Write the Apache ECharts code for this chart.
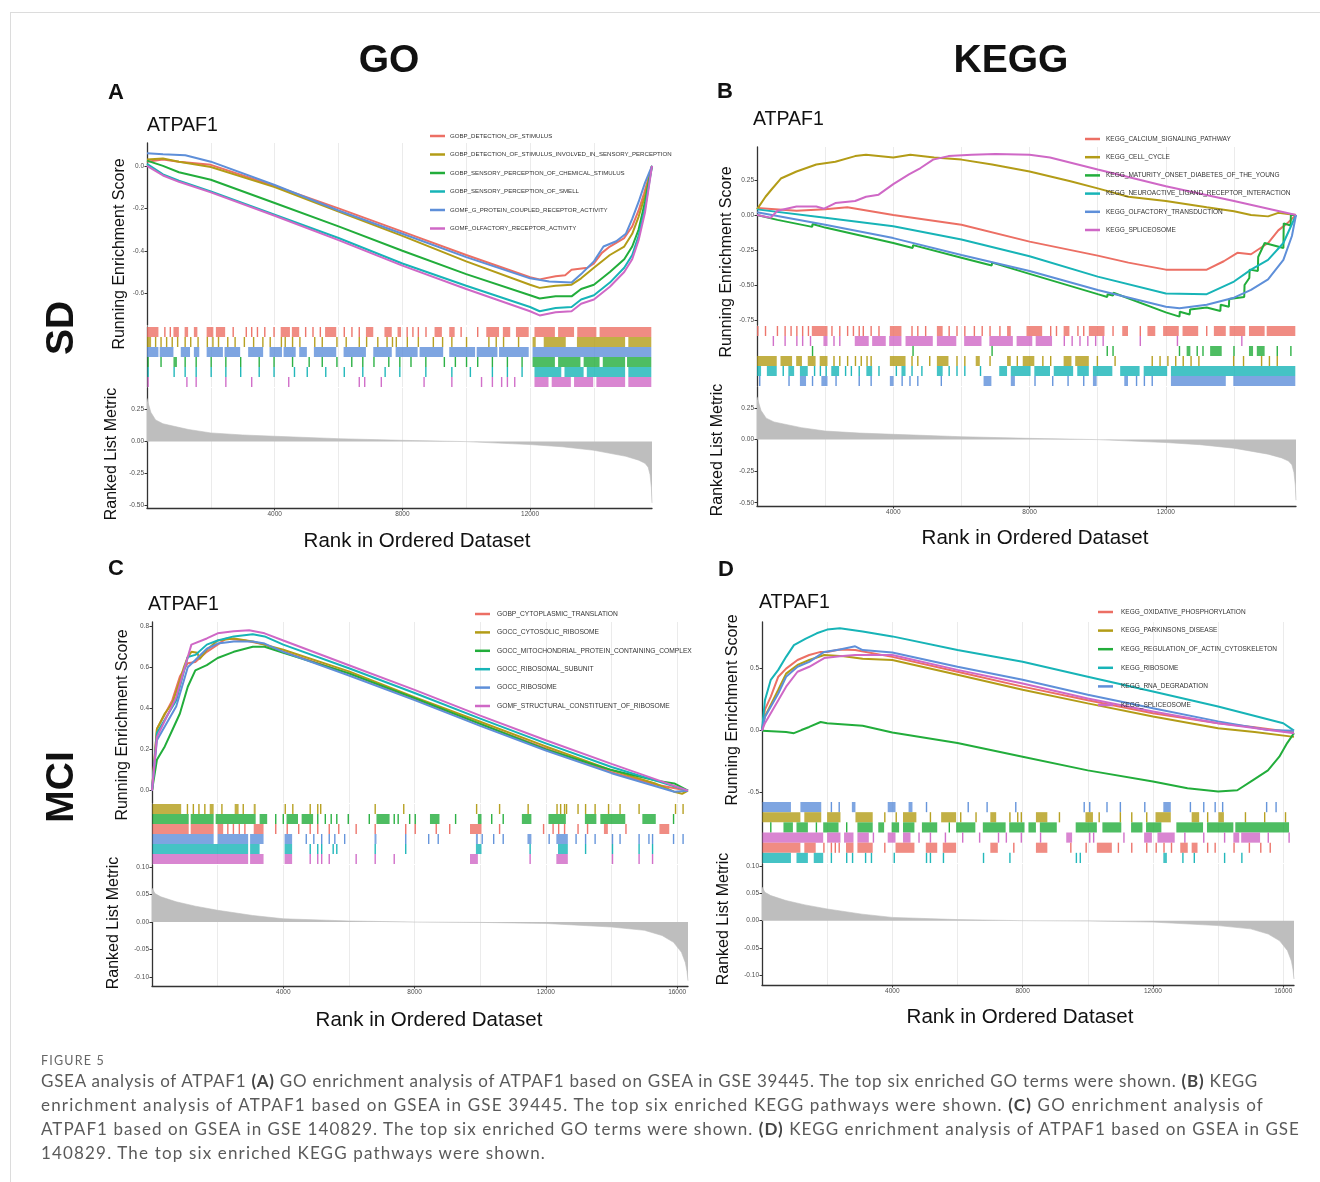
<!DOCTYPE html>
<html>
<head>
<meta charset="utf-8">
<script src="https://cdn.jsdelivr.net/npm/echarts@6/dist/echarts.min.js"></script>
<style>
  body { margin: 0; background: #fff; }
  #wrap { position: relative; width: 1320px; height: 1182px; overflow: hidden; }
  #frame { position: absolute; left: 10px; top: 12px; width: 1320px; height: 1180px;
           border-top: 1px solid #dcdcdc; border-left: 1px solid #dcdcdc; }
  #main { position: absolute; left: 0; top: 0; width: 1320px; height: 1182px; }
  .cap { position: absolute; left: 41px; font-family: Lato, 'Liberation Sans', sans-serif;
         color: #5a5a5a; white-space: nowrap; line-height: 22px; }
  .cap b { color: #444; }
</style>
</head>
<body>
<div id="wrap">
  <div id="frame"></div>
  <div id="main"></div>
  <div class="cap fit" data-w="64" style="top:1050px;font-size:12.5px;color:#666;">FIGURE 5</div>
  <div class="cap fit" data-w="1217" style="top:1070px;font-size:17px;">GSEA analysis of ATPAF1 <b>(A)</b> GO enrichment analysis of ATPAF1 based on GSEA in GSE 39445. The top six enriched GO terms were shown. <b>(B)</b> KEGG</div>
  <div class="cap fit" data-w="1223" style="top:1094px;font-size:17px;">enrichment analysis of ATPAF1 based on GSEA in GSE 39445. The top six enriched KEGG pathways were shown. <b>(C)</b> GO enrichment analysis of</div>
  <div class="cap fit" data-w="1259" style="top:1118px;font-size:17px;">ATPAF1 based on GSEA in GSE 140829. The top six enriched GO terms were shown. <b>(D)</b> KEGG enrichment analysis of ATPAF1 based on GSEA in GSE</div>
  <div class="cap fit" data-w="505" style="top:1142px;font-size:17px;">140829. The top six enriched KEGG pathways were shown.</div>
</div>
<script>
// ---- data ----
const N_SD = 15820;   // genes in GSE 39445 ranking
const N_MCI = 16330;  // genes in GSE 140829 ranking
const xTicksSD = [4000, 8000, 12000];
const xTicksMCI = [4000, 8000, 12000, 16000];
const esTicksA = [-0.6, -0.4, -0.2, 0];
const esTicksB = [-0.75, -0.5, -0.25, 0, 0.25];
const esTicksC = [0, 0.2, 0.4, 0.6, 0.8];
const esTicksD = [-0.5, 0, 0.5];
const metTicksSD = [-0.5, -0.25, 0, 0.25];
const metTicksMCI = [-0.1, -0.05, 0, 0.05, 0.1];

const setsA = ['GOBP_DETECTION_OF_STIMULUS', 'GOBP_DETECTION_OF_STIMULUS_INVOLVED_IN_SENSORY_PERCEPTION',
  'GOBP_SENSORY_PERCEPTION_OF_CHEMICAL_STIMULUS', 'GOBP_SENSORY_PERCEPTION_OF_SMELL',
  'GOMF_G_PROTEIN_COUPLED_RECEPTOR_ACTIVITY', 'GOMF_OLFACTORY_RECEPTOR_ACTIVITY'];
const setsB = ['KEGG_CALCIUM_SIGNALING_PATHWAY', 'KEGG_CELL_CYCLE', 'KEGG_MATURITY_ONSET_DIABETES_OF_THE_YOUNG',
  'KEGG_NEUROACTIVE_LIGAND_RECEPTOR_INTERACTION', 'KEGG_OLFACTORY_TRANSDUCTION', 'KEGG_SPLICEOSOME'];
const setsC = ['GOBP_CYTOPLASMIC_TRANSLATION', 'GOCC_CYTOSOLIC_RIBOSOME', 'GOCC_MITOCHONDRIAL_PROTEIN_CONTAINING_COMPLEX',
  'GOCC_RIBOSOMAL_SUBUNIT', 'GOCC_RIBOSOME', 'GOMF_STRUCTURAL_CONSTITUENT_OF_RIBOSOME'];
const setsD = ['KEGG_OXIDATIVE_PHOSPHORYLATION', 'KEGG_PARKINSONS_DISEASE', 'KEGG_REGULATION_OF_ACTIN_CYTOSKELETON',
  'KEGG_RIBOSOME', 'KEGG_RNA_DEGRADATION', 'KEGG_SPLICEOSOME'];

// running enrichment score, [rank, ES]
const esA_red = [[0,0.02],[500,0.03],[1000,0.02],[2000,0.005],[4000,-0.095],[6000,-0.2],[8000,-0.31],[10000,-0.42],[12000,-0.525],[12300,-0.535],[12800,-0.52],[13100,-0.515],[13300,-0.49],[13800,-0.48],[14000,-0.46],[14250,-0.41],[14500,-0.38],[14950,-0.34],[15200,-0.285],[15400,-0.21],[15570,-0.13],[15820,0]];
const esA_gold = [[0,0.03],[500,0.035],[1000,0.02],[2000,-0.005],[4000,-0.1],[6000,-0.215],[8000,-0.33],[10000,-0.45],[12000,-0.56],[12300,-0.575],[12800,-0.565],[13300,-0.56],[13600,-0.53],[14000,-0.48],[14500,-0.42],[14950,-0.38],[15200,-0.32],[15400,-0.24],[15600,-0.14],[15820,0]];
const esA_green = [[0,0.025],[500,0.0],[1000,-0.03],[2000,-0.065],[4000,-0.175],[6000,-0.285],[8000,-0.4],[10000,-0.51],[12000,-0.61],[12300,-0.625],[12800,-0.615],[13300,-0.615],[13600,-0.58],[14000,-0.56],[14500,-0.5],[14950,-0.44],[15200,-0.38],[15400,-0.3],[15600,-0.17],[15820,0]];
const esA_cyan = [[0,0.01],[500,-0.04],[1000,-0.07],[2000,-0.12],[4000,-0.23],[6000,-0.34],[8000,-0.46],[10000,-0.565],[12000,-0.665],[12300,-0.685],[12800,-0.67],[13300,-0.665],[13600,-0.63],[14000,-0.61],[14500,-0.55],[14950,-0.48],[15200,-0.42],[15400,-0.33],[15600,-0.2],[15820,0]];
const esA_blue = [[0,0.06],[500,0.055],[1200,0.05],[2000,0.02],[4000,-0.09],[6000,-0.21],[8000,-0.32],[10000,-0.43],[12000,-0.53],[12600,-0.545],[13300,-0.55],[13600,-0.51],[14000,-0.45],[14300,-0.38],[14700,-0.355],[15000,-0.32],[15200,-0.25],[15400,-0.17],[15600,-0.08],[15820,0]];
const esA_pink = [[0,0.0],[500,-0.045],[1000,-0.075],[2000,-0.125],[4000,-0.235],[6000,-0.35],[8000,-0.47],[10000,-0.58],[12000,-0.685],[12300,-0.705],[12800,-0.69],[13300,-0.685],[13600,-0.65],[14000,-0.63],[14500,-0.57],[14950,-0.5],[15200,-0.44],[15400,-0.35],[15600,-0.22],[15820,0]];

const esB_red = [[0,0.05],[1160,0.03],[2000,0.04],[2650,0.055],[4000,0.0],[6000,-0.07],[8000,-0.19],[10000,-0.29],[10900,-0.34],[12000,-0.39],[13200,-0.39],[13700,-0.33],[14100,-0.27],[14500,-0.28],[15000,-0.2],[15300,-0.11],[15560,-0.06],[15820,0]];
const esB_gold = [[0,0.04],[250,0.13],[420,0.18],[700,0.26],[1160,0.31],[1740,0.36],[2300,0.38],[2880,0.42],[3200,0.43],[4000,0.41],[4500,0.43],[5200,0.41],[6000,0.395],[6900,0.36],[8000,0.31],[9200,0.24],[10000,0.19],[10900,0.13],[12000,0.1],[13200,0.055],[14000,0.026],[14500,0.0],[15000,-0.01],[15300,0.015],[15820,0]];
const esB_green = [[0,0],[600,-0.035],[1620,-0.085],[1630,-0.065],[2000,-0.09],[4000,-0.2],[4570,-0.235],[4580,-0.215],[6000,-0.305],[6890,-0.36],[6900,-0.34],[8000,-0.42],[10000,-0.565],[10280,-0.585],[10290,-0.565],[10450,-0.575],[10460,-0.555],[12000,-0.695],[12400,-0.725],[12410,-0.69],[12700,-0.71],[12710,-0.675],[13200,-0.66],[13600,-0.685],[13610,-0.64],[13850,-0.655],[13860,-0.6],[14300,-0.585],[14310,-0.5],[14450,-0.45],[14460,-0.39],[14700,-0.4],[14710,-0.3],[14900,-0.2],[15450,-0.235],[15460,-0.06],[15660,-0.075],[15670,0],[15820,0]];
const esB_cyan = [[0,0.04],[2000,-0.02],[4000,-0.08],[6000,-0.175],[8000,-0.295],[10000,-0.44],[12000,-0.56],[13200,-0.565],[14000,-0.475],[14500,-0.39],[15000,-0.32],[15450,-0.2],[15820,0]];
const esB_blue = [[0,0.02],[2000,-0.07],[4000,-0.165],[6000,-0.285],[8000,-0.4],[10000,-0.535],[12000,-0.655],[12400,-0.665],[13200,-0.64],[14000,-0.59],[14500,-0.535],[15000,-0.46],[15450,-0.32],[15700,-0.15],[15820,0]];
const esB_pink = [[0,0.0],[400,-0.02],[600,0.03],[1160,0.06],[1740,0.06],[1970,0.045],[2300,0.085],[2880,0.1],[3200,0.13],[3570,0.145],[4000,0.22],[4460,0.29],[4800,0.335],[5170,0.395],[5620,0.42],[6300,0.43],[7000,0.435],[8000,0.43],[8600,0.41],[10000,0.325],[12000,0.205],[14000,0.1],[15820,0]];

const esC_red = [[0,0],[150,0.3],[390,0.37],[620,0.44],[850,0.555],[1090,0.62],[1320,0.625],[1670,0.675],[2000,0.71],[2260,0.74],[2840,0.73],[3430,0.71],[4000,0.675],[6000,0.57],[8000,0.445],[10000,0.325],[12000,0.205],[14000,0.09],[15330,0.03],[16330,0]];
const esC_gold = [[0,0],[150,0.3],[390,0.375],[620,0.425],[850,0.535],[970,0.6],[1090,0.65],[1200,0.675],[1380,0.67],[1450,0.64],[1670,0.685],[2000,0.73],[2490,0.74],[3070,0.725],[3430,0.71],[4000,0.685],[6000,0.58],[8000,0.455],[10000,0.335],[12000,0.215],[14000,0.1],[15330,0.035],[15910,-0.005],[16150,-0.015],[16330,0]];
const esC_green = [[0,0],[150,0.15],[390,0.215],[620,0.295],[850,0.375],[1090,0.505],[1320,0.585],[1670,0.61],[2000,0.645],[2490,0.675],[3070,0.7],[3430,0.7],[4000,0.67],[6000,0.57],[8000,0.45],[10000,0.325],[12000,0.2],[14000,0.1],[15330,0.05],[15910,0.035],[16330,0]];
const esC_cyan = [[0,0],[150,0.28],[740,0.44],[1090,0.65],[1320,0.66],[1670,0.71],[2000,0.73],[2490,0.75],[3070,0.76],[3430,0.75],[4000,0.71],[6000,0.595],[8000,0.475],[10000,0.35],[12000,0.23],[14000,0.115],[16330,0]];
const esC_blue = [[0,0],[150,0.245],[740,0.41],[1090,0.6],[1320,0.635],[1670,0.69],[2000,0.715],[2490,0.725],[3070,0.725],[3430,0.715],[4000,0.675],[6000,0.56],[8000,0.44],[10000,0.315],[12000,0.195],[14000,0.085],[15910,-0.005],[16330,0]];
const esC_pink = [[0,0],[150,0.26],[740,0.455],[1090,0.65],[1200,0.71],[1670,0.74],[2000,0.765],[2490,0.775],[2960,0.78],[3430,0.765],[4000,0.73],[6000,0.61],[8000,0.49],[10000,0.365],[12000,0.245],[14000,0.13],[16330,0]];

const esD_red = [[0,0],[90,0.17],[270,0.275],[500,0.435],[740,0.5],[1090,0.57],[1450,0.61],[1800,0.635],[2000,0.635],[2390,0.655],[2860,0.65],[4000,0.595],[6000,0.475],[8000,0.355],[10000,0.245],[12000,0.14],[14000,0.06],[15060,0.03],[16330,-0.015]];
const esD_gold = [[0,0],[90,0.115],[500,0.33],[740,0.46],[1090,0.53],[1450,0.57],[1910,0.61],[2510,0.6],[3090,0.58],[4000,0.57],[6000,0.45],[8000,0.33],[10000,0.22],[12000,0.115],[14000,0.02],[15120,-0.01],[16330,-0.05]];
const esD_green = [[0,0],[740,-0.01],[980,-0.02],[1210,0.005],[1450,0.03],[1800,0.07],[2000,0.06],[3090,0.04],[4000,-0.015],[6000,-0.1],[8000,-0.21],[10000,-0.32],[12000,-0.41],[13060,-0.465],[14000,-0.49],[14590,-0.48],[15060,-0.4],[15530,-0.32],[15880,-0.21],[16120,-0.1],[16330,-0.02]];
const esD_cyan = [[0,0],[90,0.245],[270,0.41],[500,0.49],[740,0.595],[980,0.69],[1330,0.74],[1680,0.785],[2000,0.815],[2390,0.825],[3090,0.8],[4000,0.76],[6000,0.65],[8000,0.555],[10000,0.435],[12000,0.315],[14000,0.195],[16000,0.06],[16330,0]];
const esD_blue = [[0,0],[90,0.11],[500,0.3],[740,0.435],[1090,0.515],[1450,0.555],[1910,0.635],[2390,0.655],[2860,0.68],[3090,0.65],[4000,0.63],[6000,0.515],[8000,0.41],[10000,0.29],[12000,0.18],[14000,0.075],[15530,0.005],[16330,0]];
const esD_pink = [[0,0],[90,0.06],[500,0.245],[740,0.355],[1090,0.475],[1450,0.515],[1910,0.585],[2390,0.6],[2860,0.61],[4000,0.61],[6000,0.49],[8000,0.38],[10000,0.26],[12000,0.155],[14000,0.06],[16330,-0.02]];

// gene-set hits: single ranks or [from, to] runs of dense hits
const hitsA_red = [[0,380],560,730,[850,1020],[1200,1310],[1490,1600],[1890,2100],[2180,2470],2700,3110,3280,3460,3690,3980,[4210,4500],[4560,4790],4970,5200,5430,[5600,5950],6180,6420,6650,[6880,7110],[7460,7690],[7870,7980],8150,8330,8500,8740,[9030,9260],[9490,9660],9840,10360,[10650,11050],[11170,11400],[11580,11980],[12160,12800],[12900,13400],[13500,14100],[14200,15820]];
const hitsA_gold = [[0,150],270,440,615,790,960,1195,1370,1600,1890,2065,2240,2530,2760,3050,3340,3630,3860,4210,4330,4560,4790,5255,5490,5950,6240,6650,6880,7230,7520,7690,7810,8155,8500,8970,9260,9550,10010,10710,10940,11170,11640,[12100,12200],[12450,13140],[13490,15000],[15100,15820]];
const hitsA_green = [35,440,[850,960],1195,1540,2010,2470,2935,3515,3980,4560,5080,5490,5950,6415,6760,7110,7575,7920,8270,8735,9315,9660,10010,10360,10820,11290,11750,[12100,12800],[12900,13600],[13700,14200],[14300,15000],[15060,15820]];
const hitsA_cyan = [35,850,1195,1540,2010,2470,2935,3515,3980,4620,5020,5600,6180,6760,7460,7920,8735,9550,10130,10820,11290,11750,[12160,13000],[13100,13700],[13800,15000],[15100,15820]];
const hitsA_blue = [[0,380],[420,850],[1080,1370],[1490,1660],[1890,2400],[2450,2940],[3190,3660],[3860,4250],[4300,4680],[4790,5030],[5250,5950],[6180,6880],[7110,7690],[7810,8500],[8560,9300],[9490,10300],[10350,11000],[11050,11980],[12100,15820]];
const hitsA_pink = [35,1250,1540,2470,3280,4440,6650,6820,7340,8680,9550,10480,10820,11110,11290,11520,[12160,12600],[12700,13300],[13400,14000],[14100,15000],[15100,15820]];

const hitsB_red = [23,250,600,825,1000,1170,1340,1510,[1630,2090],2200,2430,2660,2830,3000,3120,3350,3580,[3920,4260],4550,4720,4950,[5300,5470],5640,5870,6100,6380,6610,6840,7130,[7360,7470],[7930,8390],8620,8790,[9020,9190],9420,9590,[9760,10220],10450,[10740,10910],11250,[11480,11710],[11940,12400],[12510,12970],13200,[13430,13780],[13890,14350],[14460,14920],[14980,15820]];
const hitsB_gold = [[23,600],[710,1050],[1170,1340],[1510,1740],[1860,2090],2260,2430,2660,2890,3060,3230,3350,[3920,4380],4550,4720,5070,[5300,5640],5870,6100,[6440,6560],6840,[7360,7470],7640,[7820,8160],8390,8620,[9020,9250],[9360,9760],9990,10510,11600,11830,12060,12290,12510,12740,12970,13990,14280,14810,15040,15270];
const hitsB_green = [1630,4580,6900,10280,10450,12400,[12630,12740],12920,13090,[13320,13660],14000,[14460,14580],[14690,14920],15270,15670];
const hitsB_cyan = [[23,140],[310,600],770,[940,1110],[1280,1510],1690,1860,2030,[2200,2430],2600,2770,3000,[3230,3400],3580,4090,[4260,4380],4550,4840,[5300,5470],5640,5870,6100,6560,[7130,7360],[7470,8050],[8160,8620],[8730,9300],[9420,9760],[9880,10450],[10680,11250],[11370,12060],[12170,15820]];
const hitsB_blue = [80,940,[1280,1460],1630,[1910,2090],2320,3000,3350,[3920,4030],4260,4490,4720,5410,[6670,6900],[7470,7590],8160,8680,9130,9590,[9880,9990],[10800,10910],11140,11370,11600,[12170,13780],[14000,15820]];
const hitsB_pink = [480,825,1170,1340,1570,[1970,2090],2260,2430,[2890,3300],[3400,3800],[3900,4260],[4380,5180],[5300,5870],[6100,6610],[6840,7530],[7640,8100],[8200,8680],9020,9250,9480,9710,9940,10160,11250,12340,14230];

const hitsC_red = [[35,1140],[1200,1900],[2020,2190],2310,2480,2660,2830,[3120,3420],3770,4120,4470,4820,5050,5400,5690,6220,6800,7730,8020,8660,9070,[9710,10060],10590,11930,12220,12390,12570,12980,13270,[13790,13910],14440,[15480,15780]];
const hitsC_gold = [[35,910],1080,1260,1430,1610,[1780,1900],2130,[2540,2660],2780,[3120,3180],4060,4290,4820,5050,5140,6800,7670,9890,10590,11460,12340,12450,12570,12630,12980,13210,13500,13910,14260,14840,15950,16180];
const hitsC_green = [[35,1140],[1200,1900],[1960,3180],[3300,3530],3770,4000,[4120,4470],[4580,4930],5050,5280,5460,5630,5980,6620,[6860,7260],7380,7500,7850,8020,[8490,8780],9250,[9950,10060],10350,10700,[11290,11580],[12100,12630],[13210,13560],[13680,14440],[14960,15370],15890];
const hitsC_cyan = [[35,2950],[3010,3300],[4060,4290],4820,5050,5170,5520,5630,6800,7730,[9890,10060],11520,[12390,12690],13210,14030,14840,15250];
const hitsC_blue = [[35,1900],[2020,2950],[3010,3420],[4060,4290],4700,4930,5170,5400,5570,5870,[6800,6860],7730,8430,8720,[9890,9950],10060,10410,10700,[11460,11580],12100,[12340,12690],12920,13210,13500,14030,14260,14840,15140,15250,15890,16180];
const hitsC_pink = [[35,2950],[3010,3420],[4060,4290],4820,5050,5170,5400,6220,6800,7380,[9710,9950],11520,[12340,12690],14030,14840,15250];

const hitsD_red = [[35,1200],[1320,1670],1900,2130,2250,2370,[2600,2830],[2950,3420],3770,[4120,4700],[5050,5400],[5570,5980],[7030,7260],7730,[8430,8780],9480,9950,[10300,10760],10940,11350,11810,12100,12340,12570,[12860,13090],[13210,13390],13680,13910,14490,14960,15310,15600];
const hitsD_gold = [[35,1200],[1320,1840],[2020,2430],[2890,3420],3770,4120,[4350,4760],5170,[5520,5980],6100,6570,[7030,7210],7610,7850,7960,[8430,8780],9130,[9950,10180],10350,11000,11350,11810,[12100,12570],[13210,13440],13680,[14030,14200],14840,15430,16070];
const hitsD_green = [270,[680,970],[1080,1430],1670,[1900,2370],2600,[2950,3420],[3590,3770],[4000,4230],[4350,4700],[4930,5400],5750,[5980,6570],[6800,7500],[7610,8080],[8200,8430],[8550,9070],[9650,10300],[10470,11050],[11350,11700],[11810,12280],[12740,13560],[13680,14490],[14550,16200]];
const hitsD_cyan = [[35,910],[1080,1430],[1610,1900],2130,2600,2780,3180,3360,4060,5050,5170,5570,6800,7610,9650,9770,[12340,12450],12920,13270,14200,14730];
const hitsD_blue = [[35,910],[1200,1840],2130,2370,[2780,2890],[3880,4120],[4520,4640],5050,6330,6910,7790,9890,10060,10590,11000,11750,[12340,12570],13150,13560,13910,14140,15490,15780];
const hitsD_pink = [[35,1900],[2020,2430],[2540,2830],[2950,3300],3420,[3880,4120],[4350,4580],4820,5170,5630,6160,6680,7260,7500,7960,8550,[9360,9540],10060,10180,11110,[11750,11990],[12160,12690],12980,13560,14200,[14490,14670],[14730,15310],15540,16180];

// ranked list metric, [rank, value]
const metricSD = [[0,0.34],[40,0.3],[120,0.23],[270,0.17],[500,0.14],[850,0.12],[1300,0.095],[2000,0.068],[3000,0.052],[4000,0.042],[6000,0.023],[8000,0.01],[10000,0],[12000,-0.023],[13000,-0.04],[14000,-0.068],[15000,-0.115],[15400,-0.145],[15600,-0.17],[15700,-0.2],[15760,-0.26],[15800,-0.36],[15820,-0.48]];
const metricMCI = [[0,0.062],[90,0.052],[270,0.046],[735,0.037],[1320,0.029],[2000,0.0215],[3070,0.012],[4000,0.006],[6000,0.002],[8000,0],[10000,-0.0006],[12000,-0.0025],[14000,-0.009],[15000,-0.015],[15540,-0.0245],[15890,-0.037],[16130,-0.055],[16250,-0.074],[16300,-0.09],[16330,-0.107]];

// ---- drawing ----
const palette = ['#EC6F64', '#B39C17', '#22AD3B', '#17B4B7', '#5E8FD9', '#CF68C6'];
const FONT = "'Liberation Sans', Arial, sans-serif";

const panels = [
  { n: N_SD, left: 147, width: 505, esTop: 143, esH: 182, esMin: -0.75, esMax: 0.108, esTicks: esTicksA, esDec: 1,
    rugTop: 327, rugH: 60, metTop: 388, metH: 120, metMin: -0.52, metMax: 0.42, metTicks: metTicksSD, xTicks: xTicksSD,
    sets: setsA, es: [esA_red, esA_gold, esA_green, esA_cyan, esA_blue, esA_pink],
    hits: [hitsA_red, hitsA_gold, hitsA_green, hitsA_cyan, hitsA_blue, hitsA_pink], rows: [0, 1, 4, 2, 3, 5],
    metric: metricSD, title: [147, 126], letter: ['A', 116, 93],
    legend: { x: 430, tx: 450, y: 136, dy: 18.5, fs: 6.1 }, yName1: [120, 254], yName2: [112, 454], xName: [417, 541] },
  { n: N_SD, left: 757, width: 539, esTop: 147, esH: 178, esMin: -0.785, esMax: 0.485, esTicks: esTicksB, esDec: 2,
    rugTop: 326, rugH: 60, metTop: 387, metH: 119, metMin: -0.526, metMax: 0.417, metTicks: metTicksSD, xTicks: xTicksSD,
    sets: setsB, es: [esB_red, esB_gold, esB_green, esB_cyan, esB_blue, esB_pink],
    hits: [hitsB_red, hitsB_gold, hitsB_green, hitsB_cyan, hitsB_blue, hitsB_pink], rows: [0, 5, 2, 1, 3, 4],
    metric: metricSD, title: [753, 120], letter: ['B', 725, 92],
    legend: { x: 1085, tx: 1106, y: 139, dy: 18.2, fs: 6.5 }, yName1: [727, 262], yName2: [718, 450], xName: [1035, 538] },
  { n: N_MCI, left: 152, width: 536, esTop: 622, esH: 181, esMin: -0.06, esMax: 0.82, esTicks: esTicksC, esDec: 1,
    rugTop: 804, rugH: 60, metTop: 865, metH: 121, metMin: -0.1165, metMax: 0.104, metTicks: metTicksMCI, xTicks: xTicksMCI,
    sets: setsC, es: [esC_red, esC_gold, esC_green, esC_cyan, esC_blue, esC_pink],
    hits: [hitsC_red, hitsC_gold, hitsC_green, hitsC_cyan, hitsC_blue, hitsC_pink], rows: [1, 2, 0, 4, 3, 5],
    metric: metricMCI, title: [148, 605], letter: ['C', 116, 569],
    legend: { x: 475, tx: 497, y: 614, dy: 18.4, fs: 6.7 }, yName1: [123, 725], yName2: [114, 923], xName: [429, 1020] },
  { n: N_MCI, left: 762, width: 532, esTop: 622, esH: 180, esMin: -0.575, esMax: 0.876, esTicks: esTicksD, esDec: 1,
    rugTop: 802, rugH: 61, metTop: 864, metH: 121, metMin: -0.118, metMax: 0.104, metTicks: metTicksMCI, xTicks: xTicksMCI,
    sets: setsD, es: [esD_red, esD_gold, esD_green, esD_cyan, esD_blue, esD_pink],
    hits: [hitsD_red, hitsD_gold, hitsD_green, hitsD_cyan, hitsD_blue, hitsD_pink], rows: [4, 1, 2, 5, 0, 3],
    metric: metricMCI, title: [759, 603], letter: ['D', 726, 570],
    legend: { x: 1098, tx: 1121, y: 612, dy: 18.6, fs: 6.5 }, yName1: [733, 710], yName2: [724, 919], xName: [1020, 1017] }
];

function fmt(d) {
  return function (v) {
    let s = Number(v).toFixed(d);
    if (/^-0(\.0+)?$/.test(s)) s = s.slice(1);
    return s;
  };
}

function rugItems(p) {
  const out = [];
  p.rows.forEach(function (k, row) {
    p.hits[k].forEach(function (h) {
      const s = Array.isArray(h) ? h[0] : h;
      const e = Array.isArray(h) ? h[1] : h;
      out.push([row, s, e, k]);
    });
  });
  return out;
}

function rugRender(params, api) {
  const row = api.value(0), s = api.value(1), e = api.value(2), k = api.value(3);
  const p0 = api.coord([s, row]);
  const p1 = api.coord([e, row + 1]);
  const run = p1[0] - p0[0] > 1;
  const w = Math.max(p1[0] - p0[0], 1.4);
  return {
    type: 'rect',
    shape: { x: p0[0] - 0.7, y: Math.min(p0[1], p1[1]), width: w, height: Math.abs(p1[1] - p0[1]) },
    style: { fill: palette[k], opacity: run ? 0.8 : 0.95 }
  };
}

const axisLineStyle = { color: '#333', width: 1.3 };
const labelStyle = { fontSize: 6.5, color: '#4D4D4D', fontFamily: FONT, margin: 3 };

function gridX(gi, n, pos) {
  return { type: 'value', gridIndex: gi, min: 0, max: n, interval: 2000, position: pos || 'bottom',
    axisLine: { show: false }, axisTick: { show: false }, axisLabel: { show: false },
    splitLine: { show: true, showMinLine: false, showMaxLine: false, lineStyle: { color: '#EBEBEB', width: 1 } } };
}

const grids = [], xAxes = [], yAxes = [], series = [], graphics = [];

function txt(s, x, y, o) {
  graphics.push(Object.assign({ type: 'text', x: x, y: y, silent: true, z: 20,
    style: Object.assign({ text: s, fontFamily: FONT, fill: '#111', align: 'center', verticalAlign: 'middle' }, o.style) },
    o.rotation ? { rotation: o.rotation } : {}));
}

panels.forEach(function (p, i) {
  const g0 = i * 3, x0 = i * 4;
  grids.push({ left: p.left, top: p.esTop, width: p.width, height: p.esH, outerBoundsMode: 'none' });
  grids.push({ left: p.left, top: p.rugTop, width: p.width, height: p.rugH, outerBoundsMode: 'none' });
  grids.push({ left: p.left, top: p.metTop, width: p.width, height: p.metH, outerBoundsMode: 'none' });

  xAxes.push(gridX(g0, p.n));
  xAxes.push(gridX(g0 + 1, p.n));
  xAxes.push(gridX(g0 + 2, p.n, 'top'));
  xAxes.push({ type: 'value', gridIndex: g0 + 2, min: 0, max: p.n, position: 'bottom',
    axisLine: { show: true, onZero: false, lineStyle: axisLineStyle },
    axisTick: { show: true, length: 2.5, customValues: p.xTicks, lineStyle: { color: '#333' } },
    axisLabel: Object.assign({ customValues: p.xTicks, formatter: function (v) { return String(Math.round(v)); } }, labelStyle),
    splitLine: { show: false } });

  yAxes.push({ type: 'value', gridIndex: g0, min: p.esMin, max: p.esMax,
    axisLine: { show: true, onZero: false, lineStyle: axisLineStyle },
    axisTick: { show: true, length: 2.5, customValues: p.esTicks, lineStyle: { color: '#333' } },
    axisLabel: Object.assign({ customValues: p.esTicks, formatter: fmt(p.esDec) }, labelStyle),
    splitLine: { show: false } });
  yAxes.push({ type: 'value', gridIndex: g0 + 1, min: 0, max: 6, inverse: true,
    axisLine: { show: true, onZero: false, lineStyle: axisLineStyle },
    axisTick: { show: false }, axisLabel: { show: false }, splitLine: { show: false } });
  yAxes.push({ type: 'value', gridIndex: g0 + 2, min: p.metMin, max: p.metMax,
    axisLine: { show: true, onZero: false, lineStyle: axisLineStyle },
    axisTick: { show: true, length: 2.5, customValues: p.metTicks, lineStyle: { color: '#333' } },
    axisLabel: Object.assign({ customValues: p.metTicks, formatter: fmt(2) }, labelStyle),
    splitLine: { show: false } });

  p.es.forEach(function (d, k) {
    series.push({ type: 'line', name: p.sets[k], xAxisIndex: x0, yAxisIndex: g0, data: d,
      showSymbol: false, symbol: 'none', z: 3, lineStyle: { width: 2, color: palette[k] }, itemStyle: { color: palette[k] } });
  });
  series.push({ type: 'custom', xAxisIndex: x0 + 1, yAxisIndex: g0 + 1, data: rugItems(p),
    encode: { x: [1, 2], y: 0 }, renderItem: rugRender, silent: true, clip: true, z: 2 });
  series.push({ type: 'line', xAxisIndex: x0 + 3, yAxisIndex: g0 + 2, data: p.metric, showSymbol: false, symbol: 'none',
    lineStyle: { width: 0.6, color: '#BEBEBE' }, areaStyle: { color: '#BEBEBE', opacity: 1, origin: 0 }, silent: true, z: 2 });

  // legend (transparent background, as in the figure)
  p.sets.forEach(function (name, k) {
    const y = p.legend.y + k * p.legend.dy;
    graphics.push({ type: 'line', silent: true, z: 20, shape: { x1: p.legend.x, y1: y, x2: p.legend.x + 15, y2: y },
      style: { stroke: palette[k], lineWidth: 2.5 } });
    txt(name, p.legend.tx, y, { style: { fontSize: p.legend.fs, fill: '#333', align: 'left' } });
  });

  txt('ATPAF1', p.title[0], p.title[1], { style: { fontSize: 19.5, align: 'left', fill: '#111' } });
  txt(p.letter[0], p.letter[1], p.letter[2], { style: { fontSize: 22, fontWeight: 'bold', fill: '#111' } });
  txt('Running Enrichment Score', p.yName1[0], p.yName1[1], { rotation: Math.PI / 2, style: { fontSize: 16 } });
  txt('Ranked List Metric', p.yName2[0], p.yName2[1], { rotation: Math.PI / 2, style: { fontSize: 16 } });
  txt('Rank in Ordered Dataset', p.xName[0], p.xName[1], { style: { fontSize: 20.5 } });
});

txt('GO', 389, 61, { style: { fontSize: 39, fontWeight: 'bold', fill: '#111' } });
txt('KEGG', 1011, 61, { style: { fontSize: 39, fontWeight: 'bold', fill: '#111' } });
txt('SD', 62, 328, { rotation: Math.PI / 2, style: { fontSize: 39, fontWeight: 'bold', fill: '#111' } });
txt('MCI', 62, 787, { rotation: Math.PI / 2, style: { fontSize: 39, fontWeight: 'bold', fill: '#111' } });

const chart = echarts.init(document.getElementById('main'), null, { renderer: 'canvas' });
chart.setOption({
  animation: false,
  backgroundColor: 'transparent',
  grid: grids,
  xAxis: xAxes,
  yAxis: yAxes,
  series: series,
  graphic: graphics
});

// caption lines: fit letter spacing to the measured line widths
document.querySelectorAll('.fit').forEach(function (el) {
  const target = +el.dataset.w;
  const w = el.getBoundingClientRect().width;
  const n = el.textContent.length;
  el.style.letterSpacing = ((target - w) / n) + 'px';
});
</script>
</body>
</html>
